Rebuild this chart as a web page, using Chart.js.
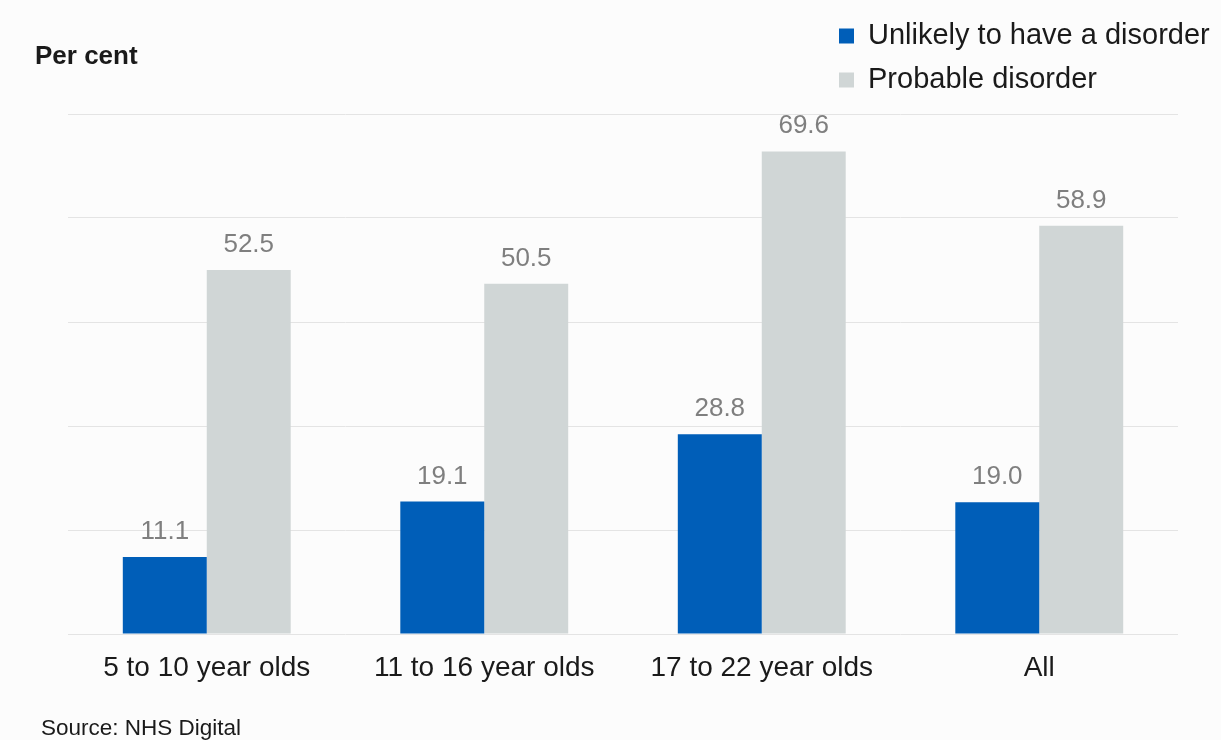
<!DOCTYPE html>
<html>
<head>
<meta charset="utf-8">
<script src="https://cdn.jsdelivr.net/npm/chart.js@4"></script>
<style>
  html, body { margin: 0; padding: 0; background: #fcfcfc; }
  #wrap { position: relative; width: 1221px; height: 740px; }
</style>
</head>
<body>
<div id="wrap"><canvas id="chart" width="1221" height="740"></canvas></div>
<script>
// chart data
const categories = ['5 to 10 year olds', '11 to 16 year olds', '17 to 22 year olds', 'All'];
const unlikelyValues = [11.1, 19.1, 28.8, 19.0];
const probableValues = [52.5, 50.5, 69.6, 58.9];
const seriesNames = ['Unlikely to have a disorder', 'Probable disorder'];

const BLUE = '#005eb8';
const GREY = '#d0d6d6';
const FONT = '"Liberation Sans", Arial, sans-serif';

// value labels above each bar
const valueLabels = {
    id: 'valueLabels',
    afterDatasetsDraw(chart) {
        const ctx = chart.ctx;
        ctx.save();
        ctx.font = '26px ' + FONT;
        ctx.fillStyle = '#7f7f7f';
        ctx.textAlign = 'center';
        ctx.textBaseline = 'alphabetic';
        chart.data.datasets.forEach((ds, i) => {
            chart.getDatasetMeta(i).data.forEach((bar, j) => {
                ctx.fillText(ds.data[j].toFixed(1), bar.x, bar.y - 18);
            });
        });
        ctx.restore();
    }
};

// title, legend and source text
const extras = {
    id: 'extras',
    afterDraw(chart) {
        const ctx = chart.ctx;
        ctx.save();
        ctx.textBaseline = 'middle';
        ctx.fillStyle = '#1a1a1a';
        ctx.font = 'bold 26px ' + FONT;
        ctx.fillText('Per cent', 35, 57);

        ctx.font = '22.5px ' + FONT;
        ctx.fillText('Source: NHS Digital', 41, 729);

        ctx.font = '29px ' + FONT;
        chart.data.datasets.forEach((ds, i) => {
            const y = 36 + i * 44;
            ctx.fillStyle = ds.backgroundColor;
            ctx.fillRect(839, y - 7.5, 15, 15);
            ctx.fillStyle = '#1a1a1a';
            ctx.fillText(ds.label, 868, y);
        });
        ctx.restore();
    }
};

new Chart(document.getElementById('chart'), {
    type: 'bar',
    data: {
        labels: categories,
        datasets: [
            { label: seriesNames[0], data: unlikelyValues, backgroundColor: BLUE },
            { label: seriesNames[1], data: probableValues, backgroundColor: GREY }
        ]
    },
    options: {
        responsive: false,
        animation: false,
        events: [],
        layout: { padding: { top: 114, right: 43, left: 0, bottom: 0 } },
        datasets: {
            bar: { categoryPercentage: 0.605, barPercentage: 1.0 }
        },
        plugins: {
            legend: { display: false },
            tooltip: { enabled: false }
        },
        scales: {
            x: {
                grid: { display: false },
                border: { display: false },
                ticks: { color: '#1a1a1a', font: { family: FONT, size: 28 }, padding: 9 },
                afterFit(s) { s.height = 106; }
            },
            y: {
                min: 0,
                max: 75,
                ticks: { display: false, stepSize: 15 },
                grid: { color: '#e4e4e4', lineWidth: 1, drawTicks: false },
                border: { display: false },
                afterFit(s) { s.width = 68; }
            }
        }
    },
    plugins: [valueLabels, extras]
});
</script>
</body>
</html>
